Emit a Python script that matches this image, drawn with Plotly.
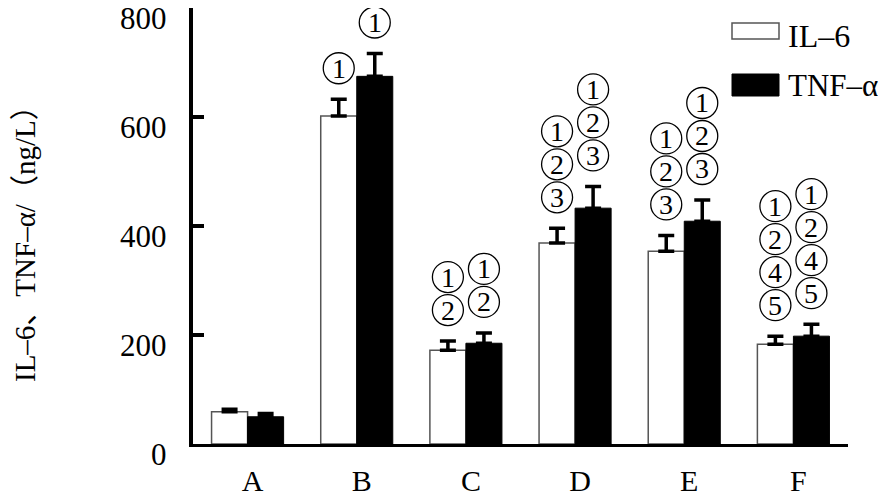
import plotly.graph_objects as go

categories = ["A", "B", "C", "D", "E", "F"]
il6 = [59, 602, 172, 369, 354, 183]
il6_err = [5, 31, 17, 27, 29, 15]
tnf = [50, 675, 185, 433, 409, 198]
tnf_err = [6, 42, 19, 40, 39, 22]
# significance marks (circled numbers), listed top to bottom
sig_il6 = [[], ["1"], ["1", "2"], ["1", "2", "3"], ["1", "2", "3"], ["1", "2", "4", "5"]]
sig_tnf = [[], ["1"], ["1", "2"], ["1", "2", "3"], ["1", "2", "3"], ["1", "2", "4", "5"]]
y_ticks = [0, 200, 400, 600, 800]
y_tick_labels = ["0", "200", "400", "600", "800"]

# page body has an 8px default margin; size the figure so it fills the 888x498 window
OFF = 8
W, H = 888 - OFF, 498 - OFF
L, R, T, B = 193 - OFF, 40, 0, 54
pw, ph = W - L - R, H - T - B
serif = "Liberation Serif, Times New Roman, Noto Sans CJK SC, serif"

bargap = 0.34
bw = (1 - bargap) / 2

fig = go.Figure()
fig.add_trace(go.Bar(
    x=categories, y=il6, name="IL–6",
    marker=dict(color="white", line=dict(color="#555555", width=1.5)),
    error_y=dict(type="data", symmetric=False, array=il6_err,
                 arrayminus=[0] * len(il6), color="black", thickness=3.5, width=8),
))
fig.add_trace(go.Bar(
    x=categories, y=tnf, name="TNF–α",
    marker=dict(color="black", line=dict(color="black", width=1)),
    error_y=dict(type="data", symmetric=False, array=tnf_err,
                 arrayminus=[0] * len(tnf), color="black", thickness=3.5, width=8),
))

annotations = []
shapes = []
step = 33
base = 31
rad = 15.5
for i in range(len(categories)):
    for vals, errs, sigs, off in ((il6, il6_err, sig_il6, -bw / 2), (tnf, tnf_err, sig_tnf, bw / 2)):
        marks = sigs[i]
        for k, m in enumerate(reversed(marks)):
            cx = i + off
            cy = vals[i] + errs[i]
            dy = base + k * step
            shapes.append(dict(
                type="circle", xref="x", yref="y",
                xsizemode="pixel", ysizemode="pixel",
                xanchor=cx, yanchor=cy,
                x0=-rad, x1=rad, y0=dy - rad, y1=dy + rad,
                line=dict(color="black", width=1.3), fillcolor="rgba(0,0,0,0)",
            ))
            annotations.append(dict(
                x=cx, y=cy, xref="x", yref="y",
                text=m, showarrow=False, yanchor="middle", xanchor="center",
                yshift=dy, borderpad=0,
                font=dict(family=serif, size=28, color="black"),
            ))

# convert reference-window pixels to paper coordinates
def px_x(p):
    return (p - OFF - L) / pw

def px_y(p):
    return (H - B - (p - OFF)) / ph

# y tick labels
for v, t in zip(y_ticks, y_tick_labels):
    annotations.append(dict(
        x=px_x(168), y=v, xref="paper", yref="y", text=t, showarrow=False,
        xanchor="right", yanchor="middle", yshift=-10, borderpad=0,
        font=dict(family=serif, size=31, color="black"),
    ))

# y-axis title
annotations.append(dict(
    x=px_x(25), y=px_y(237), xref="paper", yref="paper",
    text="IL–6、TNF–α/（ng/L）", textangle=-90, showarrow=False,
    xanchor="center", yanchor="middle",
    font=dict(family=serif, size=29, color="black"),
))

shapes += [
    dict(type="rect", xref="paper", yref="paper",
         x0=px_x(732), x1=px_x(779), y0=px_y(39), y1=px_y(23),
         fillcolor="white", line=dict(color="#555555", width=1.5)),
    dict(type="rect", xref="paper", yref="paper",
         x0=px_x(732), x1=px_x(779), y0=px_y(96), y1=px_y(74),
         fillcolor="black", line=dict(color="black", width=1)),
]
annotations.append(dict(x=px_x(786), y=px_y(36), xref="paper", yref="paper",
                        text="IL–6", showarrow=False, xanchor="left", yanchor="middle",
                        font=dict(family=serif, size=32, color="black")))
annotations.append(dict(x=px_x(786), y=px_y(85), xref="paper", yref="paper",
                        text="TNF–α", showarrow=False, xanchor="left", yanchor="middle",
                        font=dict(family=serif, size=31, color="black")))

fig.update_layout(
    width=W, height=H,
    margin=dict(l=L, r=R, t=T, b=B, pad=0, autoexpand=False),
    paper_bgcolor="white", plot_bgcolor="white",
    barmode="group", bargap=bargap, bargroupgap=0,
    showlegend=False,
    annotations=annotations, shapes=shapes,
    xaxis=dict(
        type="category", range=[-0.5, len(categories) - 0.5],
        showline=True, linecolor="black", linewidth=3,
        ticks="", showgrid=False, zeroline=False, automargin=False,
        tickfont=dict(family=serif, size=30, color="black"),
        ticklabelstandoff=8, ticklabelshift=5,
    ),
    yaxis=dict(
        range=[0, 800.5], tickvals=y_ticks, showticklabels=False,
        showline=True, linecolor="black", linewidth=4,
        ticks="inside", ticklen=11, tickwidth=4, tickcolor="black",
        showgrid=False, zeroline=False, automargin=False,
    ),
)

fig.write_html("out.html")
